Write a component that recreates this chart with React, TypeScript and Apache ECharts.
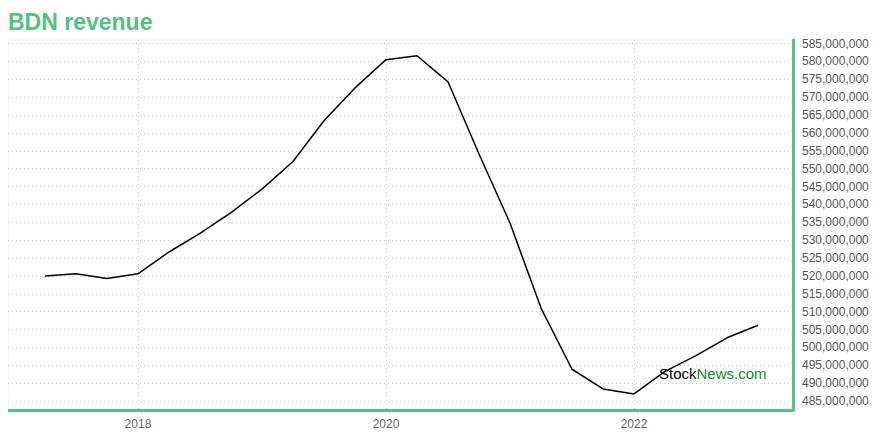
import React, { useEffect, useRef } from "react";
import * as echarts from "echarts";

const quarters: number[] = [
  2017.25, 2017.5, 2017.75, 2018.0, 2018.25, 2018.5, 2018.75, 2019.0,
  2019.25, 2019.5, 2019.75, 2020.0, 2020.25, 2020.5, 2020.75, 2021.0,
  2021.25, 2021.5, 2021.75, 2022.0, 2022.25, 2022.5, 2022.75, 2023.0,
];
const revenue: number[] = [
  520.0e6, 520.6e6, 519.3e6, 520.6e6, 526.7e6, 531.9e6, 537.7e6, 544.3e6,
  552.0e6, 563.4e6, 572.6e6, 580.5e6, 581.6e6, 574.3e6, 554.1e6, 534.8e6,
  511.0e6, 493.9e6, 488.4e6, 487.0e6, 493.3e6, 497.7e6, 502.7e6, 506.2e6,
];
const xTicks: number[] = [2018, 2020, 2022];
const yTicks: number[] = [
  485e6, 490e6, 495e6, 500e6, 505e6, 510e6, 515e6, 520e6, 525e6, 530e6, 535e6,
  540e6, 545e6, 550e6, 555e6, 560e6, 565e6, 570e6, 575e6, 580e6, 585e6,
];

const GREEN = "#52c27f";
const GRID = "#a6dcbf";
const FONT = "'Liberation Sans', Arial, sans-serif";

export default function App() {
  const ref = useRef<HTMLDivElement>(null);
  useEffect(() => {
    if (!ref.current) return;
    const chart = echarts.init(ref.current, undefined, { renderer: "svg" });
    chart.setOption({
      animation: false,
      title: {
        text: "BDN revenue",
        left: 3,
        top: 5,
        textStyle: { color: GREEN, fontSize: 23, fontWeight: "bold", fontFamily: FONT },
      },
      grid: { left: 8, right: 87, top: 40, bottom: 30, show: true, borderColor: "#eeeeee", borderWidth: 1 },
      xAxis: {
        type: "value",
        min: 2016.952,
        max: 2023.282,
        axisLine: { show: true, onZero: false, lineStyle: { color: GREEN, width: 3 } },
        axisTick: { show: false, customValues: xTicks },
        axisLabel: {
          customValues: xTicks,
          color: "#666",
          fontSize: 12,
          fontFamily: FONT,
          margin: 8,
          formatter: (v: number) => String(Math.round(v)),
        },
        splitLine: { show: true, lineStyle: { color: GRID, type: [1, 3], width: 1 } },
      },
      yAxis: {
        type: "value",
        position: "right",
        min: 482.5e6,
        max: 586e6,
        axisLine: { show: true, lineStyle: { color: GREEN, width: 3 } },
        axisTick: { show: false, customValues: yTicks },
        axisLabel: {
          customValues: yTicks,
          color: "#555",
          fontSize: 12,
          fontFamily: FONT,
          margin: 9,
          formatter: (v: number) => Math.round(v).toLocaleString("en-US"),
        },
        splitLine: { show: true, lineStyle: { color: GRID, type: [1, 3], width: 1 } },
      },
      series: [
        {
          type: "line",
          data: quarters.map((q, i) => [q, revenue[i]]),
          showSymbol: false,
          lineStyle: { color: "#000", width: 1.5 },
          z: 3,
        },
      ],
      graphic: [
        {
          type: "text",
          left: 659,
          top: 366,
          z: 10,
          style: {
            text: "{a|Stock}{b|News.com}",
            rich: {
              a: { fill: "#000", fontSize: 15, fontFamily: FONT },
              b: { fill: "#118a2a", fontSize: 15, fontFamily: FONT },
            },
          },
        },
      ],
    });
    return () => chart.dispose();
  }, []);
  return <div ref={ref} style={{ width: 880, height: 440, margin: -8 }} />;
}
